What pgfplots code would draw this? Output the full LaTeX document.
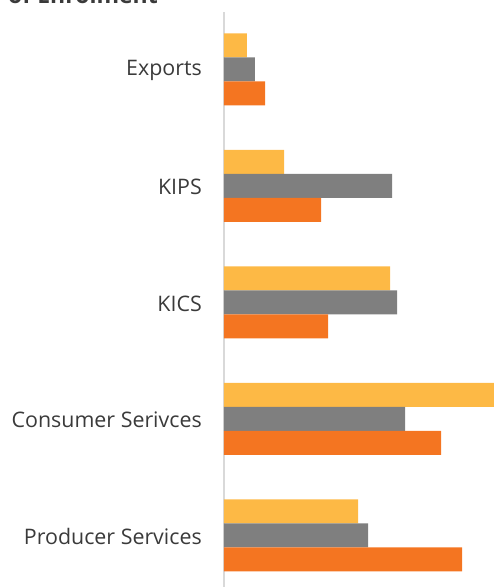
\documentclass[border=0pt]{standalone}
\usepackage{pgfplots}
\pgfplotsset{compat=1.18}
\usepackage{fontspec}
\setmainfont{Open Sans}
\definecolor{cyellow}{HTML}{FDB945}
\definecolor{cgray}{HTML}{7F7F7F}
\definecolor{corange}{HTML}{F47521}
\definecolor{ctext}{HTML}{3A3A3A}
\definecolor{caxis}{HTML}{D9D9D9}
\begin{document}
\begin{tikzpicture}[x=1pt,y=1pt]
\useasboundingbox (0,0) rectangle (494,587);
\node[anchor=base west, font=\fontsize{23}{27}\selectfont\bfseries, text=ctext, inner sep=0pt] at (8,583) {of Enrolment};
\begin{axis}[
  at={(224pt,0pt)}, anchor=south west,
  scale only axis, width=270pt, height=575pt,
  xmin=0, xmax=270, ymin=0, ymax=575,
  axis x line=none,
  axis y line=left,
  y axis line style={draw=caxis, line width=1.8pt, -},
  ytick={51.5,168,284.5,401,517.5},
  yticklabels={Producer Services,Consumer Serivces,KICS,KIPS,Exports},
  major tick length=0pt,
  yticklabel style={font=\fontsize{21.4}{25}\selectfont, text=ctext, inner sep=0pt, anchor=east, xshift=-22pt, yshift=-1pt},
  xbar, bar width=24, bar shift=0pt,
  clip=false,
]
\addplot[fill=cyellow, draw=none] coordinates {(134,75.5) (270,192) (166,308.5) (60,425) (23,541.5)};
\addplot[fill=cgray, draw=none] coordinates {(144,51.5) (181,168) (173,284.5) (168,401) (31,517.5)};
\addplot[fill=corange, draw=none] coordinates {(238,27.5) (217,144) (104,260.5) (97,377) (41,493.5)};
\end{axis}
\end{tikzpicture}
\end{document}
